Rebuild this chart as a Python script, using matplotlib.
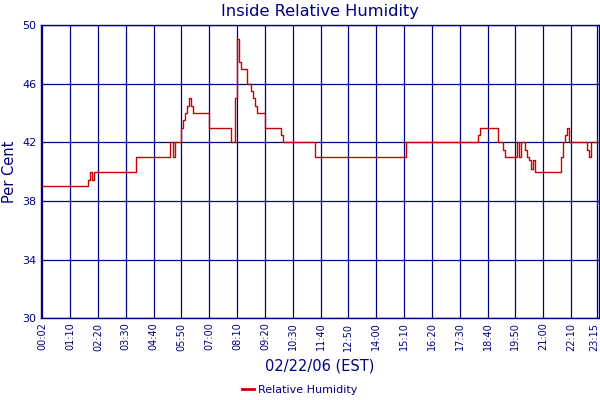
import matplotlib
matplotlib.use('Agg')
import matplotlib.pyplot as plt
import matplotlib.transforms as mtransforms
from matplotlib.lines import Line2D

# readings where the value changes (5 minute samples, first one at 00:02)
change_times = ['00:02', '01:55', '02:00', '02:05', '02:10', '03:55',
                '05:20', '05:30', '05:35', '05:50', '05:55', '06:00',
                '06:05', '06:10', '06:15', '06:20', '07:00', '07:55',
                '08:05', '08:10', '08:15', '08:20', '08:35', '08:45',
                '08:50', '08:55', '09:00', '09:20', '10:00', '10:05',
                '11:25', '15:15', '18:15', '18:20', '19:05', '19:20',
                '19:25', '19:55', '20:00', '20:05', '20:15', '20:20',
                '20:25', '20:30', '20:35', '20:40', '21:45', '21:50',
                '21:55', '22:00', '22:05', '22:50', '22:55', '23:00',
                '23:15']
humidity = [39, 39.4, 40, 39.4, 40, 41,
            42, 41, 42, 43, 43.5, 44,
            44.5, 45, 44.5, 44, 43, 42,
            45, 49, 47.5, 47, 46, 45.5,
            45, 44.5, 44, 43, 42.5, 42,
            41, 42, 42.5, 43, 42, 41.5,
            41, 42, 41, 42, 41.5, 41,
            40.8, 40.2, 40.8, 40, 41, 42,
            42.5, 43, 42, 41.5, 41, 42,
            42]

tick_labels = ['00:02', '01:10', '02:20', '03:30', '04:40', '05:50', '07:00',
               '08:10', '09:20', '10:30', '11:40', '12:50', '14:00', '15:10',
               '16:20', '17:30', '18:40', '19:50', '21:00', '22:10', '23:15']
y_ticks = [30, 34, 38, 42, 46, 50]

navy = '#000080'
red = '#cc0000'


def sample_index(hhmm):
    h, m = hhmm.split(':')
    return (int(h) * 60 + int(m)) // 5


x = [sample_index(t) for t in change_times]

fig = plt.figure(figsize=(6, 4), dpi=100)
ax = fig.add_axes([0.0675, 0.204, 0.93, 0.734])

ax.plot(x, humidity, drawstyle='steps-post', color=red, lw=1.0)

ax.set_xlim(-0.9, 279.8)
ax.set_ylim(30, 50)
ax.set_yticks(y_ticks)
ax.set_xticks([sample_index(t) for t in tick_labels])
ax.set_xticklabels(tick_labels, rotation=90)

ax.set_axisbelow(True)
ax.grid(True, color=navy, lw=0.9)
for s in ax.spines.values():
    s.set_color(navy)
    s.set_linewidth(1.0)

ax.tick_params(length=0, colors=navy, pad=3)
ax.tick_params(axis='x', labelsize=7)
ax.tick_params(axis='y', labelsize=8)

# last label sits on the right edge, nudge it in a little
last = ax.get_xticklabels()[-1]
last.set_transform(last.get_transform() +
                   mtransforms.ScaledTranslation(-2 / 72, 0, fig.dpi_scale_trans))

ax.set_title('Inside Relative Humidity', color=navy, fontsize=11.7, pad=6)
ax.set_xlabel('02/22/06 (EST)', color=navy, fontsize=10.5, labelpad=6)
ax.set_ylabel('Per Cent', color=navy, fontsize=10.5, labelpad=4)

fig.legend(handles=[Line2D([], [], color=red, lw=2)],
           labels=['Relative Humidity'], loc='center',
           bbox_to_anchor=(0.5, 0.025), frameon=False,
           handlelength=1.1, handletextpad=0.35, fontsize=8,
           labelcolor=navy)

fig.savefig('out.png', dpi=100)
